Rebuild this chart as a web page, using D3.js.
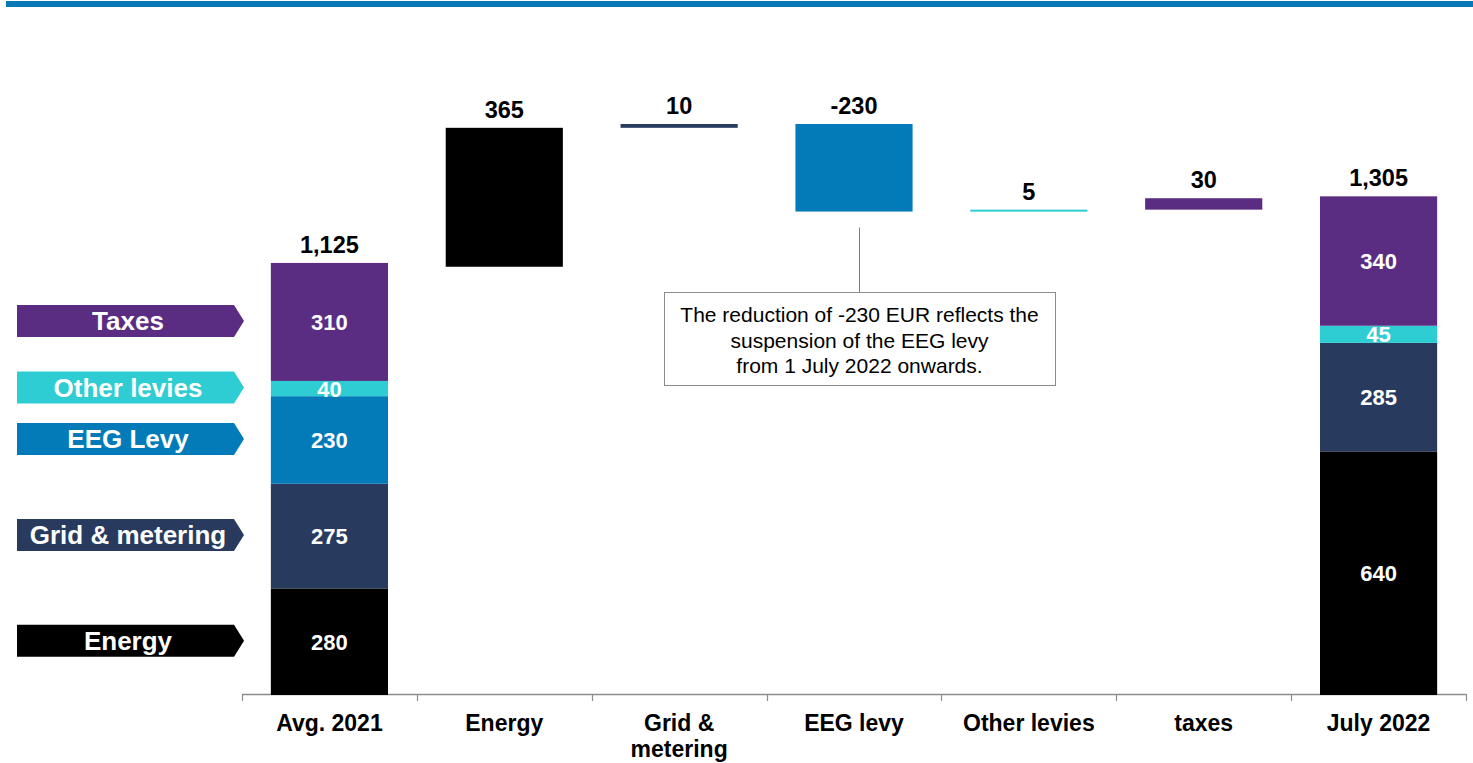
<!DOCTYPE html>
<html>
<head>
<meta charset="utf-8">
<script src="https://cdn.jsdelivr.net/npm/d3@7"></script>
<style>
  html, body { margin: 0; padding: 0; background: #fff; }
  svg { display: block; font-family: "Liberation Sans", Arial, sans-serif; }
</style>
</head>
<body>
<svg id="chart" width="1473" height="763"></svg>
<script>
// ---- data ----
const categories = ["Avg. 2021", "Energy", "Grid & metering", "EEG levy", "Other levies", "taxes", "July 2022"];
const categoryLines = [["Avg. 2021"], ["Energy"], ["Grid &", "metering"], ["EEG levy"], ["Other levies"], ["taxes"], ["July 2022"]];
const components = ["Energy", "Grid & metering", "EEG Levy", "Other levies", "Taxes"];
const componentColors = ["#000000", "#283b5e", "#037bb8", "#2ecdd3", "#5b2d82"];
const values2021 = [280, 275, 230, 40, 310];
const values2022 = [640, 285, 0, 45, 340];
const totals = [1125, 1305];
const changes = [365, 10, -230, 5, 30];
const changeColors = ["#000000", "#283b5e", "#037bb8", "#2ecdd3", "#5b2d82"];
const yDomain = [0, 1500];
const noteLines = ["The reduction of -230 EUR reflects the", "suspension of the EEG levy", "from 1 July 2022 onwards."];

// ---- layout ----
const svg = d3.select("#chart");
const fmt = v => (v < 0 ? "-" : "") + d3.format(",")(Math.abs(v));

svg.append("rect").attr("x", 6).attr("y", 1).attr("width", 1467).attr("height", 6).attr("fill", "#0779b7");

const x = d3.scaleBand().domain(categories).range([242, 1466]).paddingInner(0.33).paddingOuter(0.165);
const y = d3.scaleLinear().domain(yDomain).range([695, 124]);
const step = x.step();
const x0 = 242;

// axis
const axisG = svg.append("g");
axisG.append("line").attr("x1", 242).attr("x2", 1466).attr("y1", 694.5).attr("y2", 694.5)
  .attr("stroke", "#8c8c8c").attr("stroke-width", 1.5);
d3.range(categories.length + 1).forEach(i => {
  const tx = Math.round(x0 + i * step) + 0.5;
  axisG.append("line").attr("x1", tx).attr("x2", tx).attr("y1", 694).attr("y2", 701)
    .attr("stroke", "#8c8c8c").attr("stroke-width", 1.2);
});
categories.forEach((c, i) => {
  const t = axisG.append("text").attr("x", x(c) + x.bandwidth() / 2).attr("y", 731)
    .attr("text-anchor", "middle").attr("font-size", 23).attr("font-weight", "bold").attr("fill", "#000");
  categoryLines[i].forEach((ln, j) => {
    t.append("tspan").attr("x", x(c) + x.bandwidth() / 2).attr("dy", j === 0 ? 0 : 26).text(ln);
  });
});

// stacked bars
function stacked(cat, vals, total) {
  let acc = 0;
  const g = svg.append("g");
  vals.forEach((v, i) => {
    const y0 = acc, y1 = acc + v;
    acc = y1;
    if (v <= 0) return;
    g.append("rect").attr("x", x(cat)).attr("width", x.bandwidth())
      .attr("y", y(y1)).attr("height", y(y0) - y(y1)).attr("fill", componentColors[i]);
    g.append("text").attr("x", x(cat) + x.bandwidth() / 2).attr("y", (y(y0) + y(y1)) / 2 + 8)
      .attr("text-anchor", "middle").attr("font-size", 22).attr("font-weight", "bold")
      .attr("fill", "#fff").text(fmt(v));
  });
  g.append("text").attr("x", x(cat) + x.bandwidth() / 2).attr("y", y(acc) - 10)
    .attr("text-anchor", "middle").attr("font-size", 23.5).attr("font-weight", "bold")
    .attr("fill", "#000").text(fmt(total));
  return acc;
}
stacked(categories[0], values2021, totals[0]);
stacked(categories[6], values2022, totals[1]);

// waterfall changes
let level = totals[0];
let eegBottom = 0;
changes.forEach((d, i) => {
  const cat = categories[i + 1];
  const a = level, b = level + d;
  level = b;
  const top = Math.max(a, b), bot = Math.min(a, b);
  svg.append("rect").attr("x", x(cat)).attr("width", x.bandwidth())
    .attr("y", y(top)).attr("height", Math.max(2, y(bot) - y(top))).attr("fill", changeColors[i]);
  svg.append("text").attr("x", x(cat) + x.bandwidth() / 2).attr("y", y(top) - 10)
    .attr("text-anchor", "middle").attr("font-size", 23.5).attr("font-weight", "bold")
    .attr("fill", "#000").text(fmt(d));
  if (i === 2) eegBottom = y(bot);
});

// annotation
const cx = x(categories[3]) + x.bandwidth() / 2 + 5.5;
svg.append("line").attr("x1", cx).attr("x2", cx).attr("y1", eegBottom + 16).attr("y2", 292)
  .attr("stroke", "#7f7f7f").attr("stroke-width", 1);
svg.append("rect").attr("x", 664.5).attr("y", 292.5).attr("width", 391).attr("height", 93)
  .attr("fill", "#fff").attr("stroke", "#8c8c8c").attr("stroke-width", 1);
noteLines.forEach((ln, j) => {
  svg.append("text").attr("x", 859.5).attr("y", 322 + j * 25.5).attr("text-anchor", "middle")
    .attr("font-size", 21).attr("fill", "#000").text(ln);
});

// legend arrows aligned with 2021 segments
let acc = 0;
values2021.forEach((v, i) => {
  const mid = y(acc + v / 2);
  acc += v;
  const h = 32, left = 17, right = 234, tip = 244;
  const yc = mid - 1;
  const pts = [[left, yc - h / 2], [right, yc - h / 2], [tip, yc], [right, yc + h / 2], [left, yc + h / 2]];
  svg.append("path").attr("d", d3.line()(pts) + "Z").attr("fill", componentColors[i]);
  svg.append("text").attr("x", 128).attr("y", yc + 9).attr("text-anchor", "middle")
    .attr("font-size", 26).attr("font-weight", "bold").attr("fill", "#fff").text(components[i]);
});
</script>
</body>
</html>
